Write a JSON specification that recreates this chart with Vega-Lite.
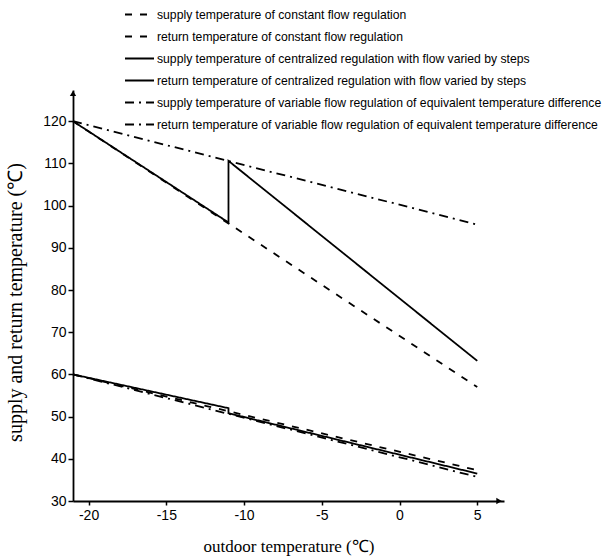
{
  "$schema": "https://vega.github.io/schema/vega-lite/v6.json",
  "width": 431,
  "height": 411,
  "autosize": {"type": "none"},
  "padding": {"left": 73, "top": 90, "right": 107, "bottom": 58},
  "background": "white",
  "config": {"view": {"stroke": null}},
  "datasets": {
    "lines": [
      {"series": "supply temperature of constant flow regulation", "i": 1, "t": -21, "v": 120},
      {"series": "supply temperature of constant flow regulation", "i": 2, "t": 5, "v": 57},
      {"series": "return temperature of constant flow regulation", "i": 1, "t": -21, "v": 60},
      {"series": "return temperature of constant flow regulation", "i": 2, "t": 5, "v": 37.3},
      {"series": "supply temperature of centralized regulation with flow varied by steps", "i": 1, "t": -21, "v": 120},
      {"series": "supply temperature of centralized regulation with flow varied by steps", "i": 2, "t": -11, "v": 96},
      {"series": "supply temperature of centralized regulation with flow varied by steps", "i": 3, "t": -11, "v": 110.6},
      {"series": "supply temperature of centralized regulation with flow varied by steps", "i": 4, "t": 5, "v": 63.2},
      {"series": "return temperature of centralized regulation with flow varied by steps", "i": 1, "t": -21, "v": 60},
      {"series": "return temperature of centralized regulation with flow varied by steps", "i": 2, "t": -11, "v": 52.0},
      {"series": "return temperature of centralized regulation with flow varied by steps", "i": 3, "t": -11, "v": 50.8},
      {"series": "return temperature of centralized regulation with flow varied by steps", "i": 4, "t": 5, "v": 36.5},
      {"series": "supply temperature of variable flow regulation of equivalent temperature difference", "i": 1, "t": -21, "v": 120},
      {"series": "supply temperature of variable flow regulation of equivalent temperature difference", "i": 2, "t": 5, "v": 95.5},
      {"series": "return temperature of variable flow regulation of equivalent temperature difference", "i": 1, "t": -21, "v": 60},
      {"series": "return temperature of variable flow regulation of equivalent temperature difference", "i": 2, "t": 5, "v": 35.7}
    ],
    "arrows": [
      {"dir": "right", "t": 6.4, "v": 30},
      {"dir": "up", "t": -21, "v": 126.6}
    ]
  },
  "layer": [
    {
      "data": {"name": "lines"},
      "mark": {"type": "line", "color": "black", "strokeWidth": 1.8, "clip": false},
      "encoding": {
        "x": {
          "field": "t", "type": "quantitative",
          "scale": {"domain": [-21, 6.72], "nice": false, "zero": false},
          "axis": {
            "values": [-20, -15, -10, -5, 0, 5],
            "labelExpr": "'' + datum.value",
            "title": "outdoor temperature (℃)",
            "titleFont": "Liberation Serif", "titleFontSize": 17, "titleFontWeight": "normal", "titleColor": "black",
            "titlePadding": 16,
            "labelFont": "Liberation Sans", "labelFontSize": 14, "labelColor": "black",
            "labelPadding": 3, "labelFlush": false,
            "domainColor": "black", "domainWidth": 1.8,
            "tickColor": "black", "tickSize": 4, "tickWidth": 1.5,
            "grid": false
          }
        },
        "y": {
          "field": "v", "type": "quantitative",
          "scale": {"domain": [30, 127.4], "nice": false, "zero": false},
          "axis": {
            "values": [30, 35, 40, 45, 50, 55, 60, 65, 70, 75, 80, 85, 90, 95, 100, 105, 110, 115, 120, 125],
            "labelExpr": "datum.value % 10 === 0 ? datum.label : ''",
            "title": "supply and return temperature (℃)",
            "titleFont": "Liberation Serif", "titleFontSize": 20, "titleFontWeight": "normal", "titleColor": "black",
            "titleX": -48, "titleY": 212,
            "labelFont": "Liberation Sans", "labelFontSize": 14, "labelColor": "black",
            "labelPadding": 2,
            "domainColor": "black", "domainWidth": 1.8,
            "tickColor": "black",
            "tickSize": {"condition": {"test": "datum.value % 10 === 0", "value": 5}, "value": 3},
            "tickWidth": 1.5,
            "grid": false
          }
        },
        "strokeDash": {
          "field": "series", "type": "nominal",
          "scale": {
            "domain": [
              "supply temperature of constant flow regulation",
              "return temperature of constant flow regulation",
              "supply temperature of centralized regulation with flow varied by steps",
              "return temperature of centralized regulation with flow varied by steps",
              "supply temperature of variable flow regulation of equivalent temperature difference",
              "return temperature of variable flow regulation of equivalent temperature difference"
            ],
            "range": [[7, 8], [7, 8], [1, 0], [1, 0], [9, 5, 2, 5], [9, 5, 2, 5]]
          },
          "legend": {
            "orient": "none", "legendX": 51, "legendY": -91,
            "title": null,
            "symbolType": "stroke", "symbolSize": 841, "symbolStrokeWidth": 1.8, "symbolStrokeColor": "black",
            "labelFont": "Liberation Sans", "labelFontSize": 12.2, "labelColor": "black",
            "labelLimit": 0, "labelOffset": 2, "rowPadding": -10.8
          }
        },
        "order": {"field": "i", "type": "quantitative"}
      }
    },
    {
      "data": {"name": "arrows"},
      "mark": {"type": "point", "filled": true, "color": "black", "opacity": 1, "clip": false},
      "encoding": {
        "x": {"field": "t", "type": "quantitative"},
        "y": {"field": "v", "type": "quantitative"},
        "shape": {
          "field": "dir", "type": "nominal",
          "scale": {"domain": ["right", "up"], "range": ["triangle-right", "triangle-up"]},
          "legend": null
        },
        "size": {"value": 40}
      }
    }
  ]
}
